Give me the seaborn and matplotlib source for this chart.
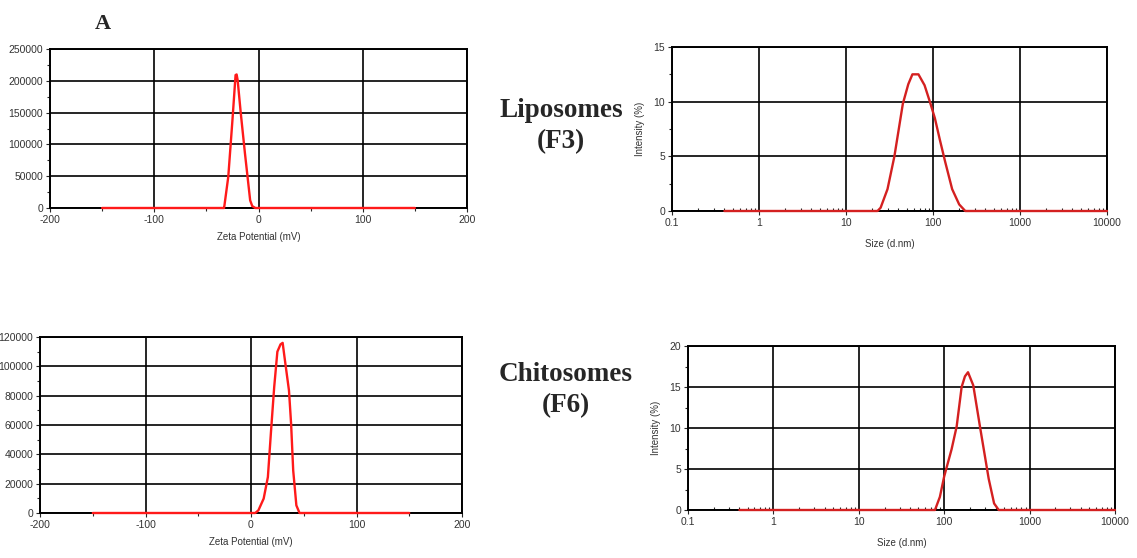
import numpy as np
import pandas as pd
import seaborn as sns
import matplotlib
matplotlib.use("Agg")
import matplotlib.pyplot as plt
from matplotlib.ticker import MultipleLocator, LogLocator, NullFormatter

# Liposomes (F3) zeta potential distribution
zeta_f3_mv = [-150, -34, -33, -29, -25, -22, -21, -20, -17, -13, -8, -6, -3, 150]
zeta_f3_counts = [0, 0, 0, 49000, 138000, 209000, 210000, 201000, 149000, 86000, 12000, 3000, 0, 0]

# Chitosomes (F6) zeta potential distribution
zeta_f6_mv = [-150, 4, 7, 12, 16, 19, 22, 25, 28, 30, 32, 36, 38, 40, 43, 46, 150]
zeta_f6_counts = [0, 0, 1800, 9800, 24500, 56000, 86000, 110000, 115000, 116000, 105000, 83500, 61000, 29000, 5200, 0, 0]

# Liposomes (F3) size distribution
size_f3_nm = [0.4, 23, 25, 30, 36, 45, 52, 58, 68, 80, 92, 105, 120, 138, 166, 200, 235, 10000]
size_f3_int = [0, 0, 0.3, 2.0, 5.0, 9.8, 11.6, 12.5, 12.5, 11.5, 10.0, 8.5, 6.5, 4.5, 2.0, 0.6, 0, 0]

# Chitosomes (F6) size distribution
size_f6_nm = [0.4, 78, 89, 100, 122, 140, 160, 175, 190, 219, 263, 332, 384, 435, 10000]
size_f6_int = [0, 0, 1.6, 4.1, 7.4, 10.2, 15.0, 16.3, 16.8, 15.2, 10.1, 3.8, 0.8, 0, 0]

W, H = 1137, 558
sns.set_style("white")
plt.rcParams['font.family'] = ['Liberation Sans', 'DejaVu Sans']
plt.rcParams['axes.unicode_minus'] = False

fig = plt.figure(figsize=(W / 100, H / 100), dpi=100)


def make_ax(left, right, top, bottom):
    return fig.add_axes([left / W, 1 - bottom / H, (right - left) / W, (bottom - top) / H])


def style_ax(ax):
    ax.grid(True, which='major', color='black', linewidth=1.2)
    for s in ax.spines.values():
        s.set_color('black')
        s.set_linewidth(1.4)
    ax.tick_params(which='major', direction='out', length=3, width=0.8,
                   labelsize=7.5, labelcolor='#333333', pad=2,
                   left=True, bottom=True)
    ax.tick_params(which='minor', direction='out', length=2, width=0.8,
                   left=True, bottom=True)


def zeta_panel(ax, x, y, ymax, ystep):
    sns.lineplot(x=x, y=y, ax=ax, color='#ff1a1a', linewidth=1.7, clip_on=False, zorder=5)
    ax.set_xlim(-200, 200)
    ax.set_ylim(0, ymax)
    ax.xaxis.set_major_locator(MultipleLocator(100))
    ax.xaxis.set_minor_locator(MultipleLocator(50))
    ax.yaxis.set_major_locator(MultipleLocator(ystep))
    ax.yaxis.set_minor_locator(MultipleLocator(ystep / 2))
    style_ax(ax)
    ax.set_xlabel('Zeta Potential (mV)', fontsize=7, color='#333333', labelpad=5)
    ax.set_ylabel('')


def size_panel(ax, x, y, ymax):
    sns.lineplot(x=x, y=y, ax=ax, color='#d42020', linewidth=1.7, clip_on=False, zorder=5)
    ax.set_xscale('log')
    ax.set_xlim(0.1, 10000)
    ax.set_ylim(0, ymax)
    ax.set_xticks([0.1, 1, 10, 100, 1000, 10000])
    ax.set_xticklabels(['0.1', '1', '10', '100', '1000', '10000'])
    ax.xaxis.set_minor_locator(LogLocator(base=10, subs=np.arange(2, 10)))
    ax.xaxis.set_minor_formatter(NullFormatter())
    ax.yaxis.set_major_locator(MultipleLocator(5))
    ax.yaxis.set_minor_locator(MultipleLocator(2.5))
    style_ax(ax)
    ax.tick_params(axis='x', which='minor', direction='in', length=2)
    ax.set_xlabel('Size (d.nm)', fontsize=7, color='#333333', labelpad=8)
    ax.set_ylabel('Intensity (%)', fontsize=7, color='#333333', labelpad=6)


ax1 = make_ax(50, 467, 49, 208)
zeta_panel(ax1, zeta_f3_mv, zeta_f3_counts, 250000, 50000)

ax2 = make_ax(672, 1107, 47, 211)
size_panel(ax2, size_f3_nm, size_f3_int, 15)

ax3 = make_ax(40, 462, 337, 513)
zeta_panel(ax3, zeta_f6_mv, zeta_f6_counts, 120000, 20000)

ax4 = make_ax(688, 1115, 346, 510)
size_panel(ax4, size_f6_nm, size_f6_int, 20)

serif = ['Liberation Serif', 'DejaVu Serif']
fig.text(103 / W, 1 - 24 / H, 'A', family=serif, fontweight='bold', fontsize=16,
         ha='center', va='center')
fig.text(561 / W, 1 - 126 / H, 'Liposomes\n(F3)', family=serif, fontweight='bold',
         fontsize=19.5, ha='center', va='center', multialignment='center', linespacing=1.3)
fig.text(566 / W, 1 - 390 / H, 'Chitosomes\n(F6)', family=serif, fontweight='bold',
         fontsize=19.5, ha='center', va='center', multialignment='center', linespacing=1.3)

fig.savefig('out.png', dpi=100, facecolor='white')
